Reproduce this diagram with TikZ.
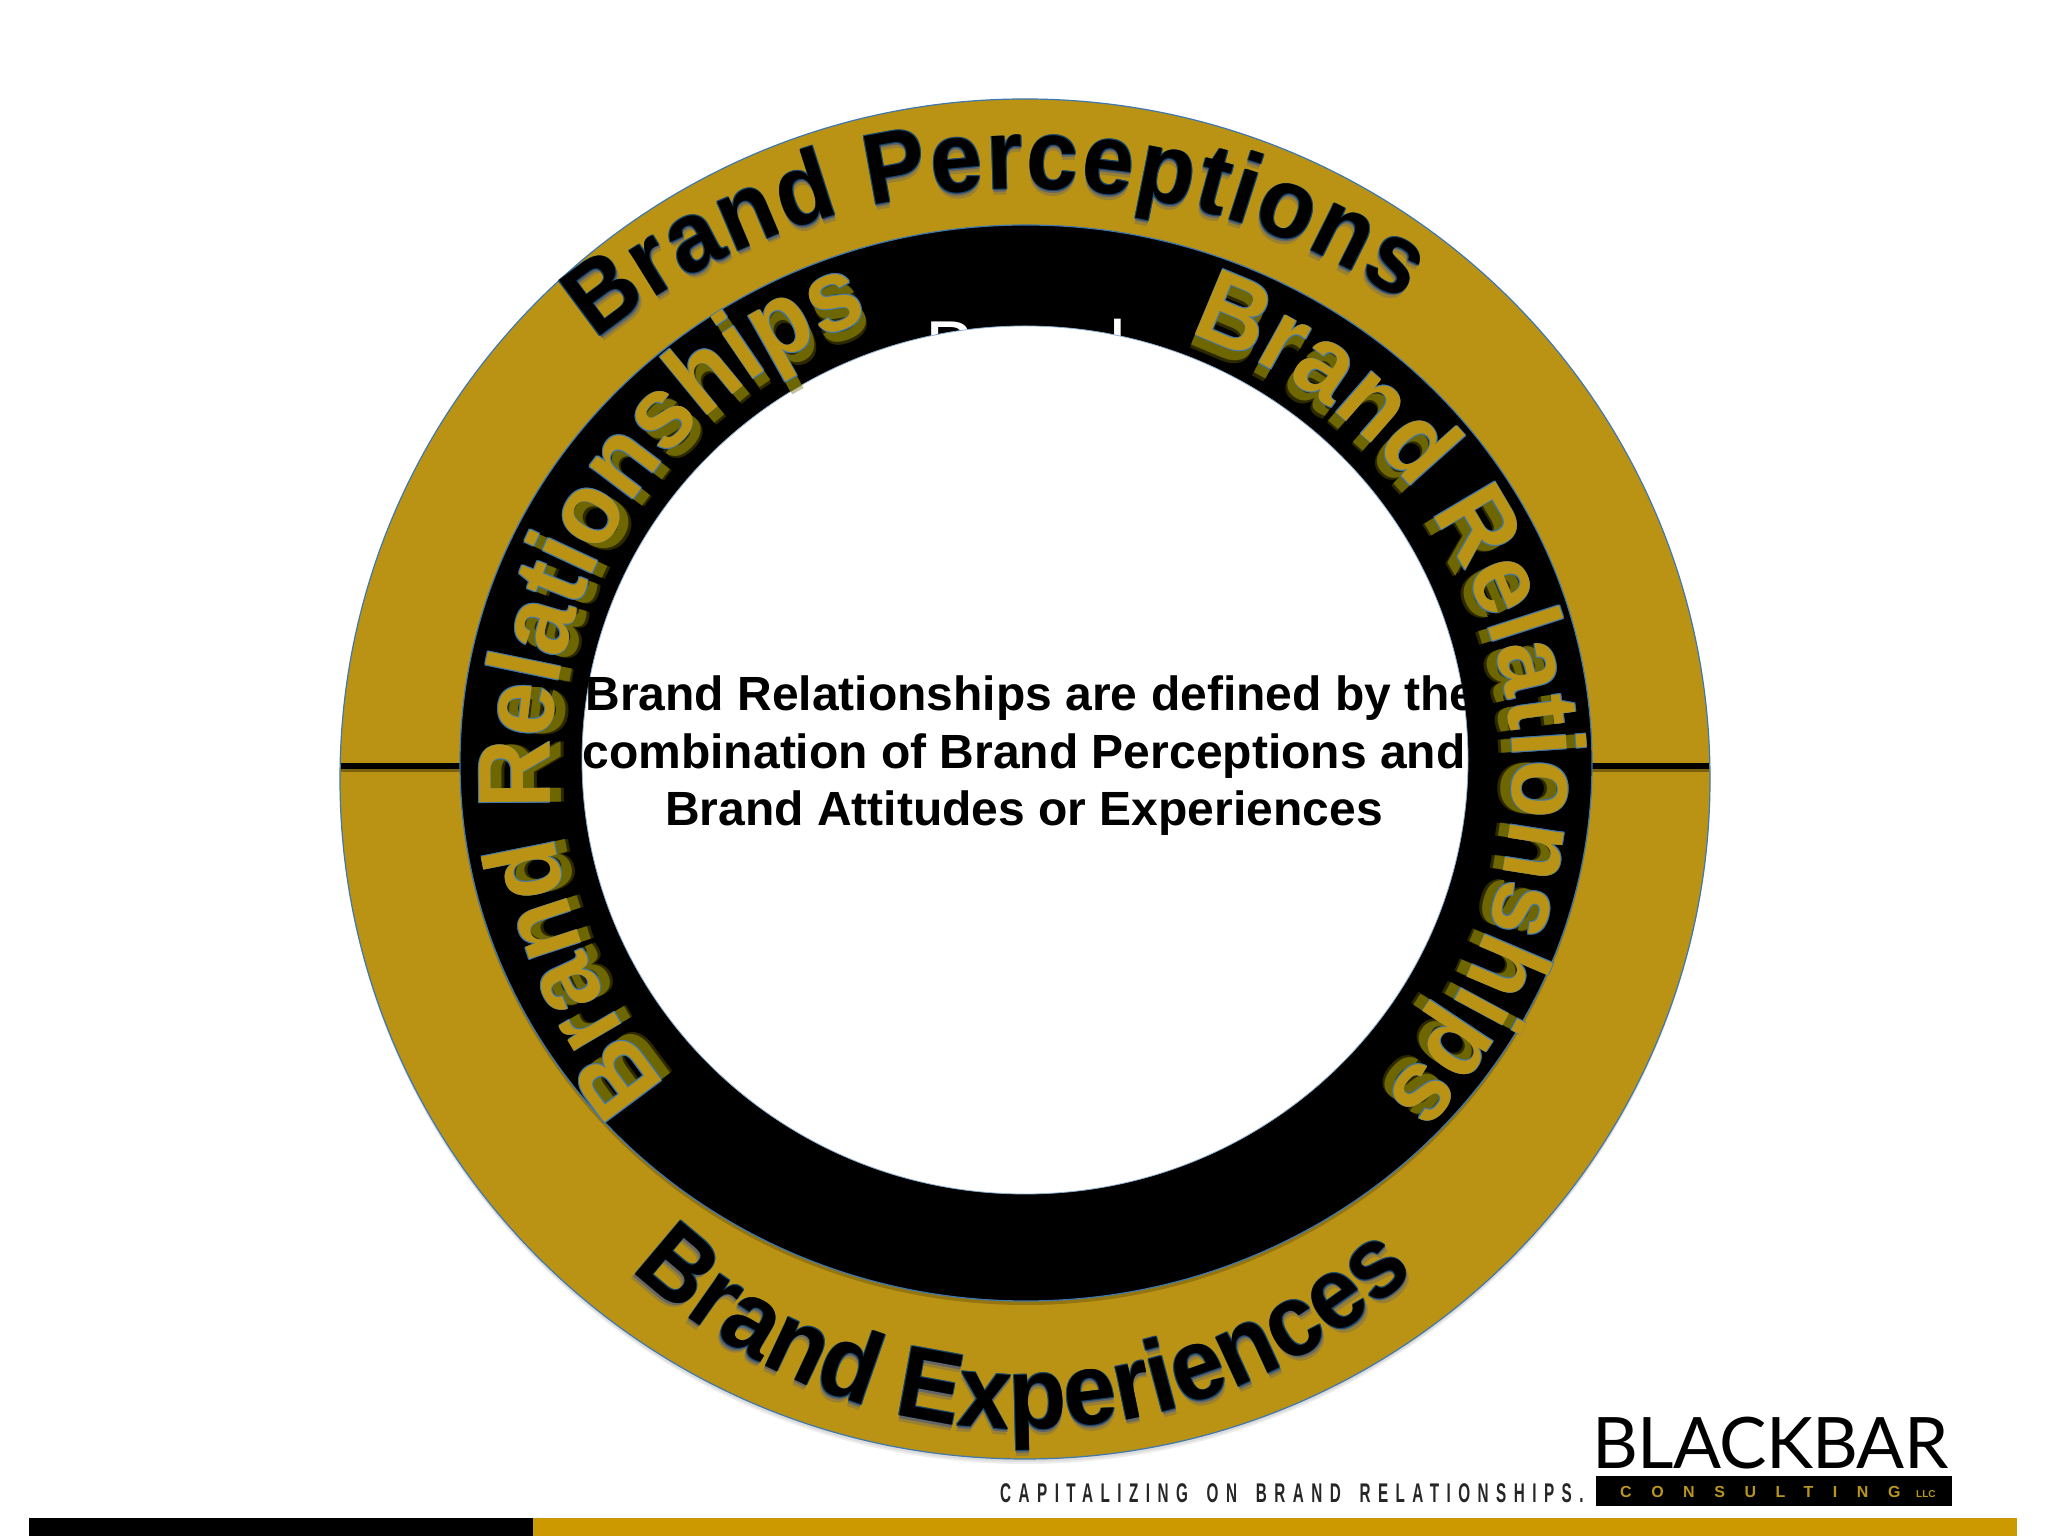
\documentclass[tikz,border=0pt]{standalone}
\usepackage{fontspec}
\usetikzlibrary{decorations.text}
\setmainfont{Liberation Sans}
\newfontfamily\logofont{Lato}
\newfontfamily\tagfont[WordSpace=1.6,LetterSpace=49]{Liberation Sans}
\newfontfamily\arcfam[FakeStretch=0.93]{Liberation Sans}
\definecolor{ringgold}{HTML}{BB9314}
\definecolor{bargold}{HTML}{CC9900}
\definecolor{logogold}{HTML}{B8961E}
\definecolor{edgeblue}{HTML}{3F78AE}
\definecolor{darkedge}{HTML}{14476F}
\definecolor{glowolive}{HTML}{6E6600}
\tikzset{
  ringedge/.style={draw=edgeblue,line width=1.2pt},
  bodytext/.style={font=\fontsize{48}{57.5}\selectfont\bfseries,align=center,text=black},
}
\newcommand{\arcfont}[1]{\arcfam\fontsize{#1}{#1}\selectfont\bfseries}
% size, colour, text, raise, path
\newcommand{\curved}[5]{%
  \path[decorate,decoration={text along path,text align={fit to path},raise=#4,
     text={|\arcfont{#1}\color{#2}|#3}}] #5;}
% size, fill, outline, shadow colour, shadow drop (negative pt), text, path
\newcommand{\fancyarc}[7]{%
  \foreach \rr/\oo in {-3/.4,3/.4}{%
    \begin{scope}[opacity=\oo]
      \pgfmathsetmacro{\dropv}{#5+\rr}
      \curved{#1}{#4}{#6}{\dropv pt}{#7}
    \end{scope}}
  \curved{#1}{#4}{#6}{#5 pt}{#7}
  \foreach \ox/\oy in {-.7/-.7,.7/.7,-.7/.7,.7/-.7}{%
    \begin{scope}[shift={(\ox,\oy)}]
      \curved{#1}{#3}{#6}{0pt}{#7}
    \end{scope}}
  \curved{#1}{#2}{#6}{0pt}{#7}
}
\begin{document}
\begin{tikzpicture}[x=1pt,y=1pt]
\useasboundingbox (0,0) rectangle (2048,1536);
\fill[white] (0,0) rectangle (2048,1536);
% soft shadow of the gold disc
\fill[black,opacity=.07] (1025,754) ellipse [x radius=685pt,y radius=680pt];
\fill[black,opacity=.07] (1025,751) ellipse [x radius=684pt,y radius=679pt];
% gold disc
\fill[ringgold,ringedge] (1025,757) ellipse [x radius=685pt,y radius=680pt];
% divider
\draw[ringgold!65!black,line width=3pt] (341,765.5) -- (1709,765.5);
\draw[black,line width=6pt] (341,770) -- (1709,770);
% black ring
\fill[black,opacity=.2] (1026,769) ellipse [x radius=566pt,y radius=538pt];
\fill[black,ringedge] (1026,773) ellipse [x radius=566pt,y radius=538pt];
\node[font=\fontsize{75}{75}\selectfont,text=white,anchor=base] (whitebrand) at (1026,1162) {Brand};
\fill[white,draw=edgeblue!60,line width=.8pt] (1025,776) ellipse [x radius=443pt,y radius=434pt];
% inner text
\node[bodytext] (centre) at (1024,780) {\hspace*{14pt}Brand Relationships are defined by the\\combination of Brand Perceptions and\\Brand Attitudes or Experiences};
% arcs
\fancyarc{100}{black}{darkedge}{black!60}{-3}{Brand Perceptions}{(1025,757) ++(132:641pt and 590pt) arc[start angle=132,end angle=54,x radius=641pt,y radius=590pt]}
\fancyarc{103}{ringgold}{edgeblue}{glowolive}{-11}{Brand Relationships}{(1025,765) ++(221:475pt and 478pt) arc[start angle=221,end angle=109,x radius=475pt,y radius=478pt]}
\fancyarc{103}{ringgold}{edgeblue}{glowolive}{-11}{Brand Relationships}{(1033,760) ++(71:480pt and 468pt) arc[start angle=71,end angle=-43,x radius=480pt,y radius=468pt]}
\fancyarc{102}{black}{darkedge}{black!60}{-3}{Brand Experiences}{(1025,757) ++(-131:600pt and 650pt) arc[start angle=-131,end angle=-49.5,x radius=600pt,y radius=650pt]}
% footer
\fill[black] (29,0) rectangle (533,18);
\fill[bargold] (533,0) rectangle (2017,18);
\node[font=\logofont\fontsize{71}{71}\selectfont,text=black,inner sep=0pt,anchor=base west] (logo) at (1592,67) {\addfontfeature{LetterSpace=-1}BLACKBAR};
\fill[black] (1596,30) rectangle (1952,60);
\node[font=\fontsize{16}{16}\selectfont\bfseries,text=logogold,inner sep=0pt,anchor=base west] (consult) at (1620,38) {\addfontfeature{LetterSpace=122}CONSULTING};
\node[font=\fontsize{10}{10}\selectfont\bfseries,text=logogold,inner sep=0pt,anchor=base west] (llc) at (1916,38) {LLC};
\node[font=\tagfont\fontsize{27}{27}\selectfont\bfseries,xscale=.565,text=black!85,inner sep=0pt,anchor=base west] (tag) at (1000,33) {CAPITALIZING ON BRAND RELATIONSHIPS.};
\end{tikzpicture}
\end{document}
